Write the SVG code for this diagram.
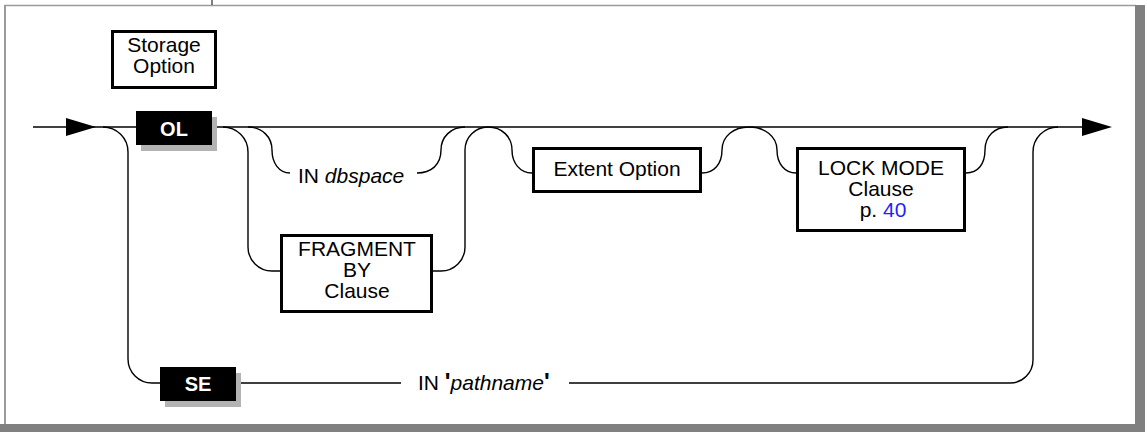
<svg xmlns="http://www.w3.org/2000/svg" width="1147" height="432" viewBox="0 0 1147 432">
<style>
text{font-family:"Liberation Sans",Arial,sans-serif;font-size:21px;fill:#000}
.c{text-anchor:middle}
.kw{font-weight:bold;fill:#fff;font-size:20px}
.box{fill:#fff;stroke:#000;stroke-width:3}
.kbox{fill:#000}
.shadow{fill:#b3b3b3}
.line{fill:none;stroke:#000;stroke-width:1.4}
.it{font-style:italic}
.q{font-weight:bold;font-size:24px}
.link{fill:#1f1fff}
</style>
<defs>
<path id="arrow" d="M0,-9 L30,0 L0,9 Z" fill="#000"/>
</defs>
<rect x="0" y="0" width="1147" height="432" fill="#fff"/>
<g id="frame">
<line x1="4" y1="5.5" x2="1136" y2="5.5" stroke="#9a9a9a" stroke-width="1.5"/>
<line x1="5" y1="5" x2="5" y2="424" stroke="#9a9a9a" stroke-width="2"/>
<rect x="1135" y="5" width="10" height="427" fill="#808080"/>
<rect x="0" y="424" width="1145" height="8" fill="#808080"/>
<line x1="212" y1="0" x2="212" y2="5" stroke="#000" stroke-width="1"/>
</g>
<g id="connectors">
<path class="line" d="M33,127 H1085"/>
<use href="#arrow" x="66" y="127"/>
<use href="#arrow" x="1082" y="127"/>
<path class="line" d="M103,127 A25,25 0 0 1 128,152 V359 A24,24 0 0 0 152,383 H160"/>
<path class="line" d="M223,127 A25,25 0 0 1 248,152 V247 A24,24 0 0 0 272,271 H280"/>
<path class="line" d="M248,127 C262,127 272,137 272,150 C272,163 279,173 290,173"/>
<path class="line" d="M417,173 C431,173 441,165 441,150 C441,137 451,127 465,127"/>
<path class="line" d="M433,271 H441 A24,24 0 0 0 465,247 V150 A23,23 0 0 1 488,127"/>
<path class="line" d="M488,127 C502,127 512,137 512,150 C512,163 520,173 532,173"/>
<path class="line" d="M702,173 C714,173 722,164 722,150 C722,136 734,127 749,127"/>
<path class="line" d="M749,127 C764,127 777,136 777,150 C777,164 785,173 796,173"/>
<path class="line" d="M966,173 C978,173 985,164 985,150 C985,136 995,127 1008,127"/>
<path class="line" d="M236,383 H401 M569,383 H1010 A23,23 0 0 0 1033,360 V152 A25,25 0 0 1 1058,127"/>
</g>
<g id="storage-option">
<rect class="box" x="112.5" y="31.5" width="103" height="56"/>
<text class="c" x="164" y="52">Storage</text>
<text class="c" x="164" y="73">Option</text>
</g>
<g id="ol">
<rect class="shadow" x="141" y="117" width="76" height="34"/>
<rect class="kbox" x="136" y="111" width="76" height="34"/>
<text class="c kw" x="174" y="135.5">OL</text>
</g>
<g id="in-dbspace">
<text x="298" y="183">IN <tspan class="it">dbspace</tspan></text>
</g>
<g id="fragment-by">
<rect class="box" x="281.5" y="235.5" width="150" height="76"/>
<text class="c" x="357" y="256">FRAGMENT</text>
<text class="c" x="357" y="277">BY</text>
<text class="c" x="357" y="298">Clause</text>
</g>
<g id="extent-option">
<rect class="box" x="533.5" y="148.5" width="167" height="43"/>
<text class="c" x="617" y="176">Extent Option</text>
</g>
<g id="lock-mode">
<rect class="box" x="797.5" y="148.5" width="167" height="82"/>
<text class="c" x="881" y="175">LOCK MODE</text>
<text class="c" x="881" y="196">Clause</text>
<text class="c" x="883" y="217">p. <tspan class="link">40</tspan></text>
</g>
<g id="se">
<rect class="shadow" x="165" y="373" width="76" height="34"/>
<rect class="kbox" x="160" y="367" width="76" height="34"/>
<text class="c kw" x="198" y="391">SE</text>
</g>
<g id="in-pathname">
<text x="418" y="390">IN <tspan class="q">'</tspan><tspan class="it">pathname</tspan><tspan class="q">'</tspan></text>
</g>
</svg>
